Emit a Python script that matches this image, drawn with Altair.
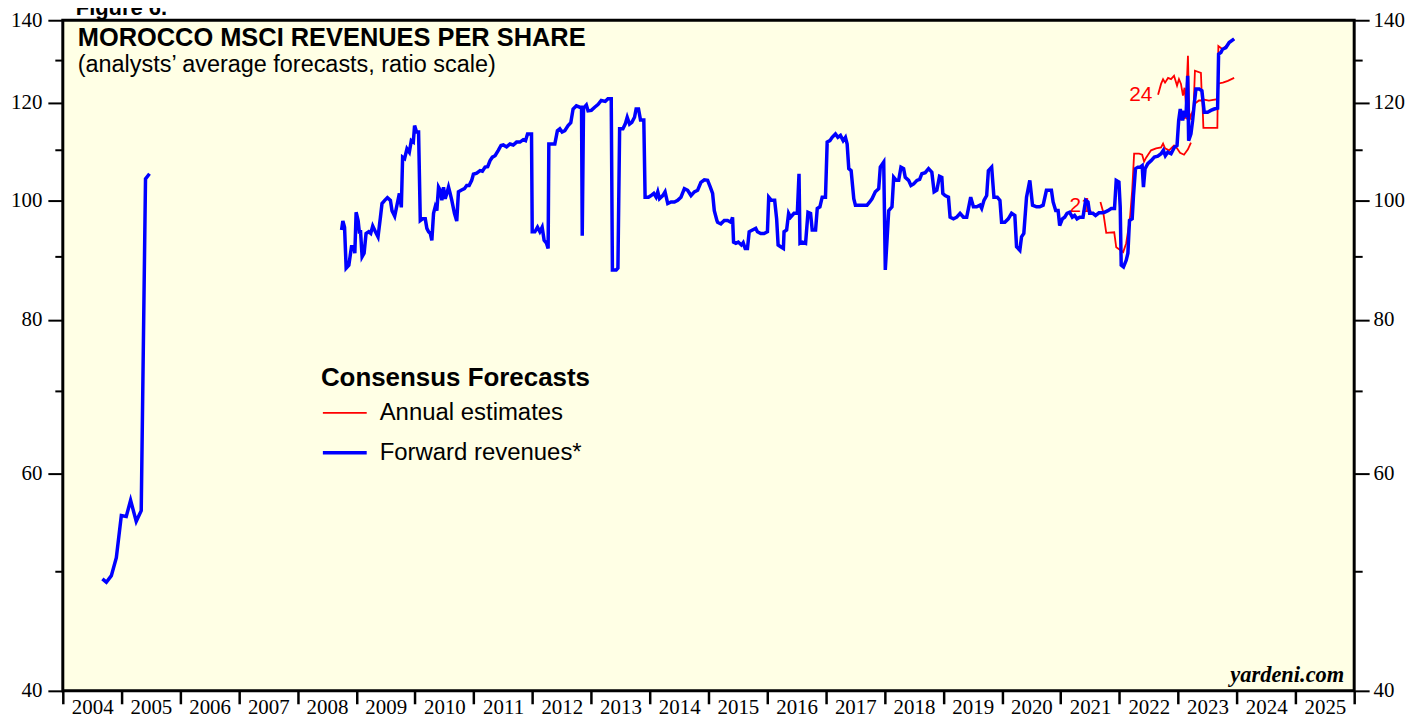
import altair as alt
import pandas as pd

# ---------------- data (decimal years, revenue per share) ----------------
fwd_years_a = [2004.674, 2004.742, 2004.827, 2004.912, 2004.997, 2005.081, 2005.155,
               2005.251, 2005.336, 2005.409, 2005.477]
fwd_vals_a = [49.3, 49.0, 49.6, 51.3, 55.5, 55.4, 57.1, 54.9, 56.0, 104.1, 105.1]

fwd_years_b = [
    2008.749, 2008.771, 2008.800, 2008.827, 2008.873, 2008.918, 2008.958, 2008.975, 2008.997,
    2009.031, 2009.054, 2009.071, 2009.099, 2009.133, 2009.166, 2009.212, 2009.246, 2009.280,
    2009.326, 2009.370, 2009.411, 2009.438, 2009.484, 2009.530, 2009.581, 2009.608, 2009.654,
    2009.693, 2009.734, 2009.767, 2009.789, 2009.823, 2009.863, 2009.903, 2009.937, 2009.971,
    2009.993, 2010.027, 2010.061, 2010.090, 2010.129, 2010.175, 2010.202, 2010.231, 2010.260,
    2010.287, 2010.316, 2010.345, 2010.372, 2010.401, 2010.430, 2010.457, 2010.486, 2010.514,
    2010.542, 2010.571, 2010.599, 2010.627, 2010.672, 2010.711, 2010.740, 2010.786, 2010.842,
    2010.881, 2010.922, 2010.966, 2010.995, 2011.051, 2011.109, 2011.148, 2011.194, 2011.238,
    2011.279, 2011.318, 2011.364, 2011.419, 2011.465, 2011.504, 2011.560, 2011.618, 2011.674,
    2011.730, 2011.788, 2011.844, 2011.883, 2011.917, 2011.985, 2011.997, 2012.042, 2012.087,
    2012.127, 2012.166, 2012.200, 2012.240, 2012.268, 2012.280, 2012.324, 2012.382, 2012.426,
    2012.467, 2012.506, 2012.552, 2012.608, 2012.654, 2012.693, 2012.749, 2012.807, 2012.837,
    2012.849, 2012.871, 2012.919, 2012.948, 2013.004, 2013.061, 2013.117, 2013.173, 2013.241,
    2013.287, 2013.343, 2013.363, 2013.428, 2013.457, 2013.486, 2013.542, 2013.581, 2013.615,
    2013.655, 2013.694, 2013.740, 2013.767, 2013.808, 2013.842, 2013.898, 2013.920, 2013.978,
    2014.022, 2014.068, 2014.107, 2014.136, 2014.165, 2014.221, 2014.260, 2014.306, 2014.362,
    2014.420, 2014.475, 2014.531, 2014.589, 2014.645, 2014.702, 2014.759, 2014.815, 2014.871,
    2014.929, 2014.985, 2015.031, 2015.070, 2015.099, 2015.143, 2015.155, 2015.211, 2015.269,
    2015.325, 2015.381, 2015.410, 2015.427, 2015.466, 2015.507, 2015.560, 2015.591, 2015.625,
    2015.664, 2015.693, 2015.749, 2015.805, 2015.834, 2015.890, 2015.947, 2016.004, 2016.026,
    2016.071, 2016.127, 2016.161, 2016.186, 2016.230, 2016.276, 2016.287, 2016.331, 2016.365,
    2016.399, 2016.457, 2016.513, 2016.542, 2016.559, 2016.598, 2016.654, 2016.695, 2016.739,
    2016.767, 2016.824, 2016.853, 2016.898, 2016.937, 2016.993, 2017.022, 2017.068, 2017.107,
    2017.163, 2017.204, 2017.248, 2017.294, 2017.333, 2017.362, 2017.390, 2017.430, 2017.475,
    2017.503, 2017.560, 2017.645, 2017.701, 2017.747, 2017.786, 2017.842, 2017.900, 2017.927,
    2017.985, 2018.012, 2018.041, 2018.070, 2018.126, 2018.155, 2018.199, 2018.240, 2018.279,
    2018.324, 2018.352, 2018.409, 2018.449, 2018.495, 2018.551, 2018.597, 2018.635, 2018.692,
    2018.749, 2018.805, 2018.844, 2018.890, 2018.936, 2018.975, 2018.992, 2019.031, 2019.088,
    2019.116, 2019.173, 2019.229, 2019.286, 2019.343, 2019.399, 2019.445, 2019.467, 2019.513,
    2019.569, 2019.625, 2019.654, 2019.693, 2019.739, 2019.768, 2019.824, 2019.863, 2019.920,
    2019.965, 2019.993, 2020.049, 2020.107, 2020.163, 2020.219, 2020.248, 2020.304, 2020.333,
    2020.372, 2020.418, 2020.474, 2020.520, 2020.588, 2020.644, 2020.701, 2020.757, 2020.842,
    2020.871, 2020.915, 2020.956, 2020.983, 2021.029, 2021.068, 2021.108, 2021.152, 2021.198,
    2021.237, 2021.278, 2021.323, 2021.380, 2021.425, 2021.465, 2021.493, 2021.550, 2021.594,
    2021.652, 2021.708, 2021.747, 2021.804, 2021.861, 2021.917, 2021.946, 2021.992, 2022.014,
    2022.031, 2022.070, 2022.116, 2022.145, 2022.172, 2022.218, 2022.240, 2022.274, 2022.315,
    2022.354, 2022.388, 2022.410, 2022.438, 2022.484, 2022.540, 2022.596, 2022.654, 2022.710,
    2022.749, 2022.783, 2022.824, 2022.880, 2022.936, 2022.982, 2023.010, 2023.037, 2023.078,
    2023.105, 2023.134, 2023.163, 2023.180, 2023.219, 2023.248, 2023.275, 2023.304, 2023.360,
    2023.406, 2023.445, 2023.503, 2023.559, 2023.615, 2023.673, 2023.690, 2023.729, 2023.758,
    2023.814, 2023.870, 2023.955]
fwd_vals_b = [
    94.6, 96.2, 95.1, 88.1, 88.6, 91.7, 91.7, 90.6, 97.8,
    96.3, 94.0, 94.6, 90.0, 90.6, 94.0, 94.3, 94.0, 95.3,
    94.3, 93.4, 96.9, 99.4, 100.0, 100.5, 100.0, 98.1, 97.1,
    99.1, 101.3, 98.7, 108.4, 108.1, 110.1, 109.4, 111.8, 111.5,
    115.0, 113.6, 113.6, 96.3, 96.6, 96.6, 94.9, 94.3, 94.0,
    92.8, 97.6, 98.8, 98.1, 102.5, 101.9, 100.0, 102.5, 100.3,
    101.3, 102.5, 101.3, 100.0, 97.6, 96.2, 101.6, 101.9, 102.2,
    102.8, 102.8, 103.8, 105.0, 105.2, 105.7, 105.6, 106.4, 106.5,
    107.7, 108.4, 108.7, 109.8, 110.8, 110.9, 110.5, 111.1, 110.9,
    111.5, 111.5, 112.0, 111.8, 113.2, 113.2, 94.3, 94.3, 95.1,
    94.3, 95.1, 92.8, 92.3, 91.4, 111.1, 111.1, 111.1, 113.9,
    114.3, 113.6, 113.9, 115.0, 115.6, 118.6, 119.3, 119.0, 119.0,
    93.6, 118.8, 119.5, 118.2, 118.3, 119.0, 119.6, 120.5, 120.3,
    120.9, 120.9, 87.8, 87.8, 88.1, 114.3, 114.3, 115.3, 116.8,
    115.3, 115.7, 116.8, 118.6, 118.6, 116.2, 116.2, 100.6, 100.6,
    100.9, 101.3, 100.6, 101.6, 100.3, 100.9, 101.6, 99.4, 99.7,
    99.7, 100.0, 100.6, 102.2, 101.9, 100.9, 101.6, 101.9, 103.4,
    103.9, 103.8, 102.5, 101.3, 98.1, 96.3, 96.0, 95.7, 96.3,
    96.3, 96.0, 96.9, 92.5, 92.3, 92.5, 92.0, 92.4, 91.4,
    91.4, 94.3, 94.6, 94.9, 94.3, 94.0, 94.0, 94.3, 100.6,
    100.0, 100.0, 96.6, 92.0, 91.7, 91.4, 94.3, 94.6, 97.6,
    96.9, 97.6, 97.6, 105.1, 92.3, 92.5, 92.3, 97.8, 97.6,
    94.6, 94.6, 98.5, 98.8, 100.6, 100.6, 111.5, 111.8, 112.5,
    113.2, 112.5, 112.9, 111.8, 112.5, 111.1, 106.1, 105.7, 100.3,
    99.1, 99.1, 99.1, 99.1, 99.7, 100.3, 101.6, 102.2, 106.4,
    107.4, 87.8, 92.8, 98.1, 98.8, 104.4, 103.8, 103.8, 106.4,
    106.1, 104.4, 103.8, 102.8, 103.1, 103.8, 104.0, 105.1, 105.3,
    106.1, 105.4, 101.6, 101.9, 104.6, 104.4, 101.3, 100.9, 100.6,
    96.9, 96.6, 96.9, 97.6, 96.9, 96.9, 99.4, 100.6, 98.8,
    98.8, 99.1, 98.5, 100.0, 100.9, 105.7, 106.4, 100.6, 100.6,
    100.0, 96.0, 96.0, 96.6, 97.6, 97.2, 91.7, 91.1, 93.4,
    94.0, 100.6, 103.8, 99.1, 98.8, 98.8, 99.1, 101.9, 101.9,
    99.7, 98.1, 98.1, 95.4, 96.6, 96.9, 97.6, 97.8, 96.9,
    97.2, 96.6, 96.9, 96.9, 100.0, 99.7, 97.6, 97.6, 97.2,
    97.7, 97.7, 97.8, 98.1, 98.5, 98.5, 103.8, 103.5, 98.8,
    88.6, 88.3, 89.4, 90.6, 96.3, 96.6, 100.9, 106.1, 106.4,
    106.4, 106.7, 102.5, 106.1, 107.1, 107.7, 108.4, 108.6, 109.1,
    109.8, 108.7, 109.4, 109.1, 110.4, 110.8, 116.1, 118.6, 116.1,
    118.2, 116.8, 126.2, 111.8, 113.2, 116.1, 119.7, 123.1, 123.1,
    122.7, 117.9, 117.9, 118.3, 118.6, 118.8, 131.4, 131.8, 132.6,
    133.0, 134.3, 135.2]

est21_years = [2021.677, 2021.725, 2021.776, 2021.912, 2021.946, 2022.065, 2022.116, 2022.150,
               2022.184, 2022.218, 2022.251, 2022.336, 2022.388, 2022.421, 2022.455, 2022.540,
               2022.625, 2022.710, 2022.744, 2022.778, 2022.846, 2022.931, 2022.982, 2023.033,
               2023.101, 2023.168, 2023.219]
est21_vals = [99.7, 97.8, 94.1, 94.2, 91.6, 90.8, 92.3, 94.6, 97.2, 101.9, 109.1, 109.1, 108.9,
              107.5, 108.3, 109.8, 110.2, 110.4, 111.2, 110.2, 109.8, 110.8, 110.2, 109.3, 108.9,
              110.0, 111.4]

est23_years = [2023.010, 2023.078, 2023.134, 2023.185, 2023.236, 2023.287, 2023.355, 2023.414,
               2023.431, 2023.669, 2023.686, 2023.758, 2023.814, 2023.870, 2023.955]
est23_vals = [116.1, 116.5, 116.7, 116.1, 117.6, 119.8, 120.5, 120.5, 114.5, 114.5, 133.4,
              132.6, 133.4, 134.3, 135.1]

est24_years = [2022.659, 2022.710, 2022.744, 2022.778, 2022.829, 2022.880, 2022.931, 2022.982,
               2023.015, 2023.049, 2023.083, 2023.109, 2023.134, 2023.168, 2023.193, 2023.227,
               2023.261, 2023.287, 2023.389, 2023.406, 2023.525, 2023.669, 2023.690, 2023.763,
               2023.848, 2023.955]
est24_vals = [121.8, 124.3, 125.4, 124.6, 125.7, 125.4, 126.2, 123.9, 125.4, 124.3, 121.6,
              123.4, 119.8, 131.0, 116.1, 117.6, 117.8, 127.4, 126.9, 120.8, 120.5, 120.8,
              124.4, 124.6, 125.0, 125.7]

est_label_text = ["21", "24"]
est_label_years = [2021.148, 2022.166]
est_label_vals = [99.0, 121.8]

y_major = [40, 60, 80, 100, 120, 140]
y_minor = [50, 70, 90, 110, 130]
x_years = list(range(2004, 2027))

SER_EST = "Annual estimates"
SER_FWD = "Forward revenues*"

# ---------------- tables ----------------
fwd = pd.concat([
    pd.DataFrame({"year": fwd_years_a, "value": fwd_vals_a, "seg": "a"}),
    pd.DataFrame({"year": fwd_years_b, "value": fwd_vals_b, "seg": "b"}),
])
fwd["series"] = SER_FWD

est = pd.concat([
    pd.DataFrame({"year": est21_years, "value": est21_vals, "line": "21"}),
    pd.DataFrame({"year": est23_years, "value": est23_vals, "line": "23"}),
    pd.DataFrame({"year": est24_years, "value": est24_vals, "line": "24"}),
])
est["series"] = SER_EST

labels = pd.DataFrame({"t": est_label_text, "year": est_label_years, "value": est_label_vals})

# ---------------- scales / axes ----------------
SANS = "Liberation Sans"
SERIF = "Liberation Serif"

xaxis = alt.Axis(values=x_years, format="d",
                 labelExpr="datum.value >= 2026 ? '' : datum.label",
                 labelOffset=29.5, labelPadding=-7, labelFlush=False, labelOverlap=False,
                 tickSize=13, tickWidth=2.5, tickColor="black", domain=False, grid=False,
                 labelFont=SERIF, labelFontSize=21, labelColor="black", title=None)
xscale = alt.Scale(domain=[2004, 2026], nice=False, zero=False)
yscale = alt.Scale(type="log", domain=[40, 140], nice=False)

major_str = "[" + ",".join(str(v) for v in y_major) + "]"
minor_str = "[" + ",".join(str(v) for v in y_minor) + "]"


def yaxis(orient, pad):
    return alt.Axis(orient=orient, values=sorted(y_major + y_minor), format="d",
                    labelExpr=f"indexof({major_str}, datum.value) >= 0 ? datum.label : ''",
                    tickSize={"condition": {"test": f"indexof({minor_str}, datum.value) >= 0",
                                            "value": 8}, "value": 15},
                    tickWidth=2, tickColor="black", domain=False, grid=False,
                    labelFont=SERIF, labelFontSize=21, labelColor="black",
                    labelPadding=pad, labelOverlap=False, title=None)


color_scale = alt.Scale(domain=[SER_EST, SER_FWD], range=["#FF0000", "#0000FF"])
width_scale = alt.Scale(domain=[SER_EST, SER_FWD], range=[1.8, 3.5])
legend = alt.Legend(
    title="Consensus Forecasts", orient="none", legendX=259, legendY=346, direction="vertical",
    titleFont=SANS, titleFontSize=26, titleFontWeight="bold", titleColor="black", titlePadding=12,
    titleLimit=500,
    labelFont=SANS, labelFontSize=24, labelColor="black", labelOffset=11, labelLimit=400,
    symbolType="stroke", symbolSize=1936, clipHeight=20, rowPadding=16, padding=0,
)

est_layer = alt.Chart(est).mark_line().encode(
    x=alt.X("year:Q", scale=xscale, axis=xaxis),
    y=alt.Y("value:Q", scale=yscale, axis=yaxis("right", 4)),
    color=alt.Color("series:N", scale=color_scale, legend=legend),
    strokeWidth=alt.StrokeWidth("series:N", scale=width_scale, legend=legend),
    detail="line:N",
)

lab_layer = alt.Chart(labels).mark_text(align="left", baseline="middle", font=SANS,
                                        fontSize=21, color="#FF0000").encode(
    x=alt.X("year:Q", scale=xscale, axis=xaxis),
    y=alt.Y("value:Q", scale=yscale, axis=None),
    text="t:N",
)

fwd_layer = alt.Chart(fwd).mark_line().encode(
    x=alt.X("year:Q", scale=xscale, axis=xaxis),
    y=alt.Y("value:Q", scale=yscale, axis=yaxis("left", 6)),
    color=alt.Color("series:N", scale=color_scale, legend=legend),
    strokeWidth=alt.StrokeWidth("series:N", scale=width_scale, legend=legend),
    detail="seg:N",
)


def note(text, x, y, size, weight="normal", style="normal", font=SANS, align="left"):
    return alt.Chart(pd.DataFrame({"t": [text]})).mark_text(
        align=align, baseline="alphabetic", font=font, fontSize=size, fontWeight=weight,
        fontStyle=style, color="black").encode(text="t:N", x=alt.value(x), y=alt.value(y))


title = note("MOROCCO MSCI REVENUES PER SHARE", 15, 25.5, 25.5, weight="bold")
subtitle = note("(analysts\u2019 average forecasts, ratio scale)", 15, 51.5, 23.5)
source = note("yardeni.com", 1286, 664, 22.5, weight="bold", style="italic", font=SERIF,
              align="right")
figure = note("Figure 6.", 13, -5, 22, weight="bold")

chart = alt.layer(est_layer, lab_layer, fwd_layer, title, subtitle, source, figure).resolve_axis(
    y="independent"
).properties(
    width=1296, height=673,
    autosize=alt.AutoSizeParams(type="none"),
    padding={"left": 55, "top": 11, "right": 52, "bottom": 27},
).configure_view(
    fill="#FFFFE5", stroke="black", strokeWidth=3
)

chart.save("out.html", embed_options={"renderer": "svg", "actions": False})
